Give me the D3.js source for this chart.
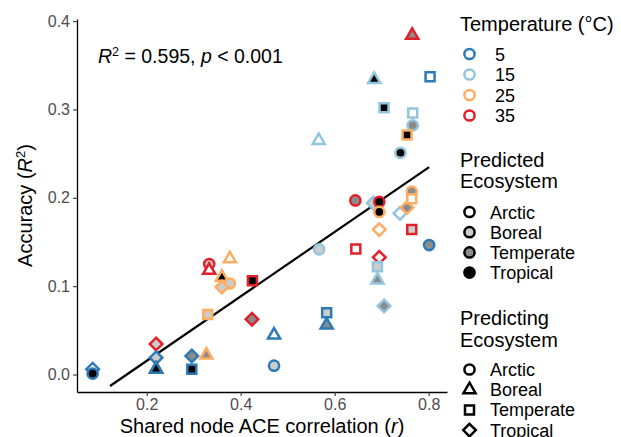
<!DOCTYPE html>
<html>
<head>
<meta charset="utf-8">
<script src="https://cdn.jsdelivr.net/npm/d3@7"></script>
<style>
  body { margin: 0; background: #fff; }
  text { font-family: "Liberation Sans", Arial, Helvetica, sans-serif; }
</style>
</head>
<body>
<div id="chart"></div>
<script>
(function(){

    //data, one entry per point
    var temperature = [5, 5, 35, 5, 35, 5, 5, 5, 25, 25, 35, 35,
                       25, 25, 25, 25, 35, 35, 5, 5, 5, 5, 15, 35,
                       35, 15, 35, 25, 25, 35, 15, 15, 15, 15, 25, 25,
                       25, 35, 5, 35, 15, 5, 15, 15, 15, 25, 15, 15];
    var predicting = ["Tropical", "Arctic", "Tropical", "Tropical", "Boreal", "Boreal", "Tropical", "Temperate", "Boreal", "Temperate", "Arctic", "Boreal",
                      "Boreal", "Boreal", "Arctic", "Tropical", "Temperate", "Tropical", "Boreal", "Arctic", "Temperate", "Boreal", "Arctic", "Temperate",
                      "Arctic", "Tropical", "Arctic", "Arctic", "Tropical", "Tropical", "Temperate", "Boreal", "Tropical", "Tropical", "Tropical", "Arctic",
                      "Temperate", "Temperate", "Arctic", "Boreal", "Boreal", "Temperate", "Temperate", "Temperate", "Arctic", "Temperate", "Boreal", "Arctic"];
    var predicted = ["Arctic", "Tropical", "Boreal", "Boreal", "Tropical", "Tropical", "Temperate", "Tropical", "Temperate", "Boreal", "Boreal", "Arctic",
                     "Arctic", "Tropical", "Boreal", "Boreal", "Tropical", "Temperate", "Arctic", "Boreal", "Boreal", "Temperate", "Boreal", "Arctic",
                     "Temperate", "Boreal", "Tropical", "Tropical", "Arctic", "Arctic", "Boreal", "Temperate", "Temperate", "Arctic", "Temperate", "Temperate",
                     "Arctic", "Boreal", "Temperate", "Temperate", "Tropical", "Arctic", "Tropical", "Arctic", "Temperate", "Tropical", "Arctic", "Tropical"];
    var sharedCorr = [0.085, 0.085, 0.220, 0.220, 0.220, 0.220, 0.296, 0.296, 0.327, 0.330, 0.333, 0.333,
                      0.377, 0.360, 0.377, 0.360, 0.425, 0.424, 0.471, 0.471, 0.583, 0.583, 0.567, 0.645,
                      0.644, 0.682, 0.695, 0.695, 0.695, 0.695, 0.691, 0.691, 0.705, 0.739, 0.754, 0.764,
                      0.764, 0.764, 0.801, 0.765, 0.684, 0.803, 0.705, 0.766, 0.766, 0.754, 0.566, 0.740];
    var accuracy = [0.006, 0.001, 0.0345, 0.019, 0.006, 0.006, 0.021, 0.006, 0.022, 0.068, 0.125, 0.118,
                    0.131, 0.110, 0.103, 0.099, 0.106, 0.0625, 0.0447, 0.010, 0.070, 0.056, 0.1417, 0.142,
                    0.197, 0.194, 0.1955, 0.184, 0.164, 0.1326, 0.122, 0.107, 0.0775, 0.1824, 0.189, 0.207,
                    0.199, 0.164, 0.1465, 0.384, 0.334, 0.337, 0.302, 0.296, 0.282, 0.271, 0.265, 0.251];

    //legend levels
    var tempLevels = [5, 15, 25, 35];
    var ecoLevels = ["Arctic", "Boreal", "Temperate", "Tropical"];

    //fitted line
    var fitSlope = 0.3648, fitIntercept = -0.0575;
    var fitRange = [0.122, 0.801];

    //tick values
    var xTicks = [0.2, 0.4, 0.6, 0.8];
    var yTicks = [0, 0.1, 0.2, 0.3, 0.4];

    var width = 621, height = 437;

    var tempColor = d3.scaleOrdinal()
        .domain(tempLevels)
        .range(["#2c7bb6", "#92c5de", "#fdae61", "#e0202a"]);

    var ecoFill = d3.scaleOrdinal()
        .domain(ecoLevels)
        .range(["#ffffff", "#cccccc", "#8c8c8c", "#000000"]);

    //path for each predicting ecosystem shape, centred on 0,0
    function shapePath(shape){
        if (shape == "Arctic"){
            var r = 5.1;
            return "M" + r + ",0A" + r + "," + r + " 0 1,1 " + (-r) + ",0A" + r + "," + r + " 0 1,1 " + r + ",0Z";
        } else if (shape == "Boreal"){
            var R = 7, h = R * Math.sin(Math.PI / 3);
            return "M0," + (-R) + "L" + h + "," + (R / 2) + "L" + (-h) + "," + (R / 2) + "Z";
        } else if (shape == "Temperate"){
            var s = 4.5;
            return "M" + (-s) + "," + (-s) + "H" + s + "V" + s + "H" + (-s) + "Z";
        } else {
            var d = 6.3;
            return "M0," + (-d) + "L" + d + ",0L0," + d + "L" + (-d) + ",0Z";
        }
    }

    var svg = d3.select("#chart")
        .append("svg")
        .attr("width", width)
        .attr("height", height);

    //scales
    var x = d3.scaleLinear()
        .domain([0.0517, 0.839])
        .range([77, 447]);

    var y = d3.scaleLinear()
        .domain([-0.0198, 0.4024])
        .range([392, 19]);

    //axes
    var xAxis = svg.append("g")
        .attr("transform", "translate(0,392)")
        .call(d3.axisBottom(x).tickValues(xTicks).tickFormat(d3.format(".1f")).tickSize(4).tickPadding(3).tickSizeOuter(0));

    var yAxis = svg.append("g")
        .attr("transform", "translate(77,0)")
        .call(d3.axisLeft(y).tickValues(yTicks).tickFormat(d3.format(".1f")).tickSize(4).tickPadding(3).tickSizeOuter(0));

    [xAxis, yAxis].forEach(function(ax){
        ax.select(".domain").attr("stroke", "#000").attr("stroke-width", 1.3);
        ax.selectAll(".tick line").attr("stroke", "#333").attr("stroke-width", 1.1);
        ax.selectAll(".tick text")
            .attr("fill", "#4d4d4d")
            .style("font-size", "16px")
            .style("font-family", "'Liberation Sans', Arial, sans-serif");
    });

    //axis titles
    svg.append("text")
        .attr("x", 262)
        .attr("y", 433)
        .attr("text-anchor", "middle")
        .style("font-size", "20px")
        .html('Shared node ACE correlation (<tspan font-style="italic">r</tspan>)');

    svg.append("text")
        .attr("transform", "translate(32,205.5) rotate(-90)")
        .attr("text-anchor", "middle")
        .style("font-size", "20px")
        .html('Accuracy (<tspan font-style="italic">R</tspan><tspan baseline-shift="super" font-size="13px">2</tspan>)');

    //annotation
    svg.append("text")
        .attr("x", 98)
        .attr("y", 63)
        .style("font-size", "19.5px")
        .html('<tspan font-style="italic">R</tspan><tspan baseline-shift="super" font-size="12.5px">2</tspan><tspan> = 0.595, </tspan><tspan font-style="italic">p</tspan><tspan> &lt; 0.001</tspan>');

    //regression line
    svg.append("line")
        .attr("x1", x(fitRange[0]))
        .attr("y1", y(fitIntercept + fitSlope * fitRange[0]))
        .attr("x2", x(fitRange[1]))
        .attr("y2", y(fitIntercept + fitSlope * fitRange[1]))
        .attr("stroke", "#000")
        .attr("stroke-width", 2.2);

    //points
    var points = d3.range(sharedCorr.length).map(function(i){
        return {r: sharedCorr[i], acc: accuracy[i], temp: temperature[i], from: predicting[i], to: predicted[i]};
    });

    svg.selectAll(".pt")
        .data(points)
        .enter()
        .append("path")
        .attr("class", "pt")
        .attr("transform", function(d){ return "translate(" + x(d.r) + "," + y(d.acc) + ")"; })
        .attr("d", function(d){ return shapePath(d.from); })
        .attr("fill", function(d){ return ecoFill(d.to); })
        .attr("stroke", function(d){ return tempColor(d.temp); })
        .attr("stroke-width", 2.5);

    //legends
    var legend = svg.append("g");

    function legendTitle(lines, y0){
        lines.forEach(function(t, i){
            legend.append("text")
                .attr("x", 460)
                .attr("y", y0 + i * 21.7)
                .style("font-size", "20px")
                .text(t);
        });
    }

    function legendLabel(t, lx, ly){
        legend.append("text")
            .attr("x", lx)
            .attr("y", ly + 6.5)
            .style("font-size", "18px")
            .text(t);
    }

    //temperature
    legendTitle(["Temperature (°C)"], 31);
    tempLevels.forEach(function(t, i){
        var ky = 54 + i * 20.5;
        legend.append("path")
            .attr("transform", "translate(469.5," + ky + ")")
            .attr("d", shapePath("Arctic"))
            .attr("fill", "#fff")
            .attr("stroke", tempColor(t))
            .attr("stroke-width", 2.5);
        legendLabel(t, 495, ky);
    });

    //predicted ecosystem
    legendTitle(["Predicted", "Ecosystem"], 166.7);
    ecoLevels.forEach(function(e, i){
        var ky = 212 + i * 20.2;
        legend.append("path")
            .attr("transform", "translate(469.5," + ky + ")")
            .attr("d", shapePath("Arctic"))
            .attr("fill", ecoFill(e))
            .attr("stroke", "#000")
            .attr("stroke-width", 2.5);
        legendLabel(e, 490, ky);
    });

    //predicting ecosystem
    legendTitle(["Predicting", "Ecosystem"], 325);
    ecoLevels.forEach(function(e, i){
        var ky = 369.5 + i * 20.2;
        legend.append("path")
            .attr("transform", "translate(469.5," + ky + ")")
            .attr("d", shapePath(e))
            .attr("fill", "#fff")
            .attr("stroke", "#000")
            .attr("stroke-width", 2.5);
        legendLabel(e, 490, ky);
    });

})();
</script>
</body>
</html>
